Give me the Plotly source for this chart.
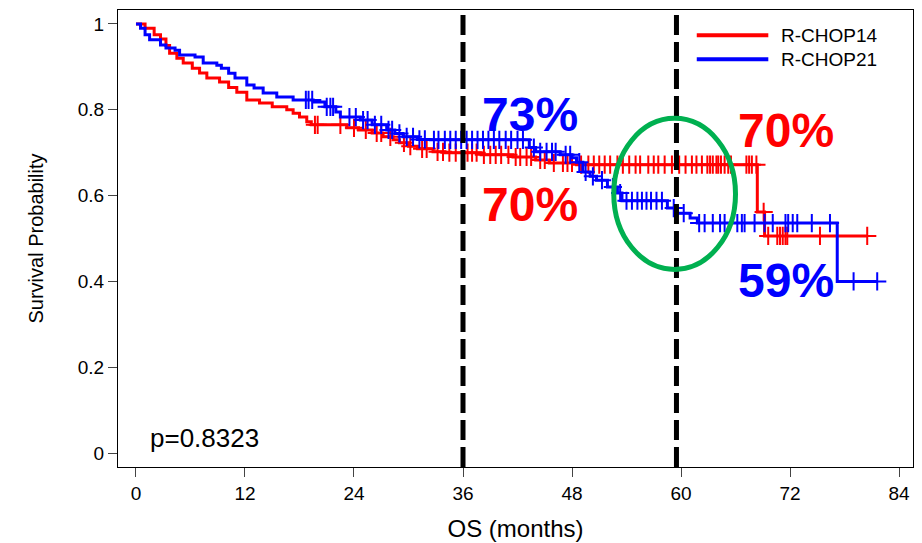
import numpy as np
import plotly.graph_objects as go

# Kaplan-Meier step estimates (months, survival probability)
r14_times = [0, 1.0, 2.0, 2.7, 3.3, 3.7, 4.5, 5.2, 6.2, 7.0, 7.8, 9.2, 10.2, 11.1, 12.2,
             13.6, 15.0, 16.6, 17.3, 18.0, 18.8, 19.3, 23.2, 24.5, 26.0, 27.2, 28.3, 29.0,
             30.0, 31.0, 32.7, 34.0, 38.0, 41.5, 44.0, 45.5, 48.5, 68.4, 69.2]
r14_surv = [1.0, 0.99, 0.975, 0.965, 0.95, 0.932, 0.92, 0.909, 0.897, 0.886, 0.874, 0.865,
            0.852, 0.841, 0.823, 0.816, 0.807, 0.800, 0.792, 0.783, 0.772, 0.765, 0.758,
            0.753, 0.746, 0.737, 0.730, 0.723, 0.715, 0.709, 0.702, 0.700, 0.695, 0.690,
            0.683, 0.676, 0.672, 0.562, 0.506]

r21_times = [0, 0.5, 1.0, 1.5, 2.7, 3.3, 4.3, 4.8, 6.5, 7.4, 8.9, 9.4, 10.2, 10.9, 12.2,
             13.0, 14.0, 15.5, 17.3, 19.5, 20.8, 22.0, 22.5, 24.7, 26.0, 27.6, 28.5, 29.4,
             31.0, 32.4, 43.3, 44.0, 46.7, 48.0, 48.5, 49.2, 50.0, 50.7, 51.9, 53.0, 53.5,
             58.5, 59.6, 61.0, 61.8, 77.2]
r21_surv = [1.0, 0.99, 0.975, 0.963, 0.951, 0.944, 0.939, 0.928, 0.923, 0.909, 0.904, 0.897,
            0.885, 0.874, 0.858, 0.851, 0.839, 0.830, 0.823, 0.818, 0.807, 0.795, 0.783,
            0.776, 0.765, 0.753, 0.745, 0.737, 0.731, 0.730, 0.712, 0.702, 0.695, 0.688,
            0.678, 0.655, 0.645, 0.636, 0.620, 0.606, 0.588, 0.571, 0.559, 0.548, 0.536,
            0.400]

# Censoring times
r14_cens = [19.7, 20.0, 22.5, 24.0, 25.3, 26.5, 27.0, 28.0, 29.5, 30.2, 31.5, 32.0, 33.2,
            33.8, 34.5, 35.2, 36.5, 37.0, 37.5, 38.3, 39.0, 39.6, 40.2, 41.0, 41.8, 42.3,
            43.0, 43.5, 44.5, 45.0, 46.0, 47.0, 47.5, 48.0, 49.0, 49.8, 50.4, 51.0, 51.6,
            52.2, 53.0, 53.6, 54.3, 55.0, 55.5, 56.4, 57.0, 57.5, 58.2, 59.0, 59.8, 60.5,
            61.2, 61.7, 62.3, 62.9, 63.2, 63.5, 63.9, 64.1, 64.4, 64.8, 65.2, 65.5, 67.2,
            67.5, 67.8, 68.3, 69.1, 69.6, 70.6, 70.9, 71.2, 71.5, 71.7, 75.3, 80.5]
r21_cens = [18.7, 19.0, 19.4, 21.0, 21.4, 21.7, 23.5, 24.2, 25.0, 25.5, 26.3, 27.0, 27.8,
            28.2, 29.0, 29.8, 30.5, 31.2, 31.8, 32.8, 33.3, 34.0, 34.6, 35.2, 35.8, 36.4,
            37.0, 37.6, 38.2, 38.8, 39.4, 40.0, 40.7, 41.3, 42.0, 42.6, 43.8, 44.5, 45.2,
            45.8, 46.2, 47.3, 47.8, 48.8, 49.5, 50.3, 51.3, 52.5, 53.3, 54.0, 54.6, 55.2,
            55.7, 56.2, 56.7, 57.3, 57.9, 59.2, 60.3, 62.0, 62.6, 63.5, 64.3, 64.8, 66.2,
            66.7, 67.0, 68.1, 69.2, 70.1, 71.5, 71.8, 72.3, 72.8, 74.4, 76.4, 79.0, 81.6]

arms = [
    ("R-CHOP14", "#FF0000", r14_times, r14_surv, r14_cens),
    ("R-CHOP21", "#0000FF", r21_times, r21_surv, r21_cens),
]

x_ticks = [0, 12, 24, 36, 48, 60, 72, 84]
y_ticks = [0, 0.2, 0.4, 0.6, 0.8, 1]
y_ticktext = ["0", "0.2", "0.4", "0.6", "0.8", "1"]
landmarks = [36, 59.5]
FONT = "Arial, Liberation Sans, sans-serif"

fig = go.Figure()

for name, color, t, s, cens in arms:
    t = np.asarray(t, float)
    s = np.asarray(s, float)
    c = np.asarray(cens, float)
    end = max(t[-1], c.max())
    # step curve extended to the last follow-up
    xs = np.append(t, end)
    ys = np.append(s, s[-1])
    fig.add_trace(go.Scatter(x=xs, y=ys, mode="lines", line=dict(color=color, width=3, shape="hv"),
                             name=name, showlegend=False, hoverinfo="skip"))
    cy = s[np.searchsorted(t, c, side="right") - 1]
    fig.add_trace(go.Scatter(x=c, y=cy, mode="markers", showlegend=False,
                             marker=dict(symbol="cross-thin", size=13, color=color,
                                         line=dict(color=color, width=2))))

# landmark lines
for xv in landmarks:
    fig.add_shape(type="line", xref="x", yref="paper", x0=xv, x1=xv, y0=0, y1=1,
                  line=dict(color="black", width=5, dash="20px,7px"))

# highlight ellipse around the 5-year landmark
fig.add_shape(type="circle", xref="x", yref="y", x0=52.6, x1=66.0, y0=0.428, y1=0.780,
              line=dict(color="#00B050", width=5))

# landmark percentages
labels = [
    ("73%", "#0000FF", 43.4, 0.788),
    ("70%", "#FF0000", 43.4, 0.580),
    ("70%", "#FF0000", 71.6, 0.751),
    ("59%", "#0000FF", 71.6, 0.401),
]
for txt, col, xv, yv in labels:
    fig.add_annotation(x=xv, y=yv, text=txt, showarrow=False, xref="x", yref="y",
                       font=dict(family=FONT, size=48, color=col, weight="bold"))

fig.add_annotation(x=1.3, y=0.035, text="p=0.8323", showarrow=False, xanchor="left",
                   yanchor="middle", xref="x", yref="y",
                   font=dict(family=FONT, size=26, color="black"))

# legend
for i, (name, color, *_rest) in enumerate(arms):
    yp = 0.945 - i * 0.0525
    fig.add_shape(type="line", xref="paper", yref="paper", x0=0.728, x1=0.818, y0=yp, y1=yp,
                  line=dict(color=color, width=4))
    fig.add_annotation(xref="paper", yref="paper", x=0.832, y=yp, text=name, showarrow=False,
                       xanchor="left", yanchor="middle",
                       font=dict(family=FONT, size=19, color="black"))

fig.update_layout(
    width=922, height=543,
    margin=dict(l=118, r=9, t=10, b=76),
    paper_bgcolor="white", plot_bgcolor="white",
    font=dict(family=FONT, color="black"),
)
fig.update_xaxes(range=[-1.98, 85.54], tickvals=x_ticks, ticks="outside", ticklen=9,
                 showgrid=False, zeroline=False, showline=True, linecolor="black", mirror=True,
                 automargin=False, tickfont=dict(size=19),
                 title=dict(text="OS (months)", font=dict(size=24), standoff=17))
fig.update_yaxes(range=[-0.0326, 1.0326], tickvals=y_ticks, ticktext=y_ticktext,
                 ticks="outside", ticklen=9, showgrid=False, zeroline=False, showline=True,
                 linecolor="black", mirror=True, automargin=False, tickfont=dict(size=19),
                 title=dict(text="Survival Probability", font=dict(size=20), standoff=28))

fig.write_html("out.html")
